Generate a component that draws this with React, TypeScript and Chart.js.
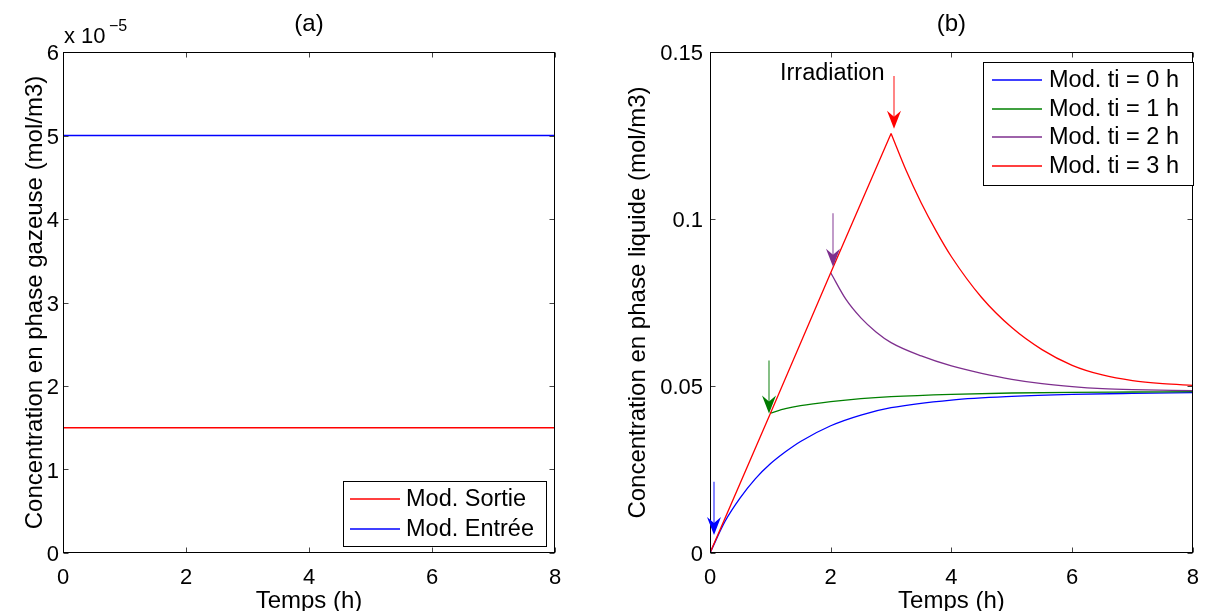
import React, { useEffect, useRef } from 'react';
import { Chart, registerables } from 'chart.js';

Chart.register(...registerables);

const FONT = '"Liberation Sans", Arial, Helvetica, sans-serif';
const TICK_FS = 22;
const LABEL_FS = 24;
const LEGEND_FS = 23.5;

// ---------- Panel (a) data ----------
const leftTimes = [0, 8];
const sortieValues = [1.5e-5, 1.5e-5];
const entreeValues = [5e-5, 5e-5];
const leftYTicks = [0, 1e-5, 2e-5, 3e-5, 4e-5, 5e-5, 6e-5];
const xTickValues = [0, 2, 4, 6, 8];

// ---------- Panel (b) data ----------
const blueTimes = [0, 0.25, 0.5, 0.75, 1, 1.25, 1.5, 2, 2.5, 3, 4, 5, 6, 7, 8];
const blueValues = [0, 0.0095, 0.0165, 0.0222, 0.0267, 0.0303, 0.0334, 0.0381, 0.0413, 0.0435, 0.0458, 0.0469, 0.0475, 0.0478, 0.048];

const greenTimes = [1, 1.25, 1.5, 2, 2.5, 3, 4, 5, 6, 7, 8];
const greenValues = [0.0419, 0.0432, 0.0441, 0.0453, 0.0462, 0.0468, 0.0475, 0.0479, 0.0481, 0.0482, 0.0483];

const purpleTimes = [2, 2.25, 2.5, 2.75, 3, 3.5, 4, 4.5, 5, 5.5, 6, 6.5, 7, 8];
const purpleValues = [0.0839, 0.076, 0.0704, 0.0662, 0.063, 0.059, 0.056, 0.0538, 0.052, 0.0507, 0.0498, 0.0492, 0.0489, 0.0486];

const redRiseTimes = [0, 1, 2, 3];
const redRiseValues = [0, 0.0418, 0.0839, 0.1256];
const redDecayTimes = [3, 3.25, 3.5, 3.75, 4, 4.5, 5, 5.5, 6, 6.5, 7, 7.5, 8];
const redDecayValues = [0.1256, 0.1145, 0.1048, 0.0963, 0.0887, 0.0765, 0.0675, 0.0609, 0.0562, 0.0533, 0.0516, 0.0507, 0.0502];

const rightYTicks = [0, 0.05, 0.1, 0.15];

// Irradiation arrows (time, arrow start value, arrow tip value)
const arrowTimes = [0.07, 0.98, 2.03, 3.05];
const arrowTops = [0.0213, 0.0576, 0.1017, 0.1428];
const arrowTips = [0.0054, 0.0418, 0.0857, 0.127];
const arrowColors = ['#0000ff', '#007a00', '#7e2f8e', '#ff0000'];

const leftLabels = ['Mod. Sortie', 'Mod. Entrée'];
const rightLabels = ['Mod. ti = 0 h', 'Mod. ti = 1 h', 'Mod. ti = 2 h', 'Mod. ti = 3 h'];

const BLUE = '#0000ff';
const GREEN = '#008000';
const PURPLE = '#7e2f8e';
const RED = '#ff0000';
const LW = 1.3;

const pts = (xs: number[], ys: number[]) => xs.map((x, i) => ({ x, y: ys[i] }));

const panelPlugin = {
  id: 'panel',
  afterDatasetsDraw(chart: any, _args: any, opts: any) {
    const { ctx, chartArea: a, scales } = chart;
    const xs = scales.x;
    const ys = scales.y;
    ctx.save();
    ctx.lineWidth = 1;
    const L = Math.round(a.left) + 0.5;
    const R = Math.round(a.right) - 0.5;
    const T = Math.round(a.top) + 0.5;
    const B = Math.round(a.bottom) - 0.5;
    // inward ticks on all four sides
    ctx.strokeStyle = '#444';
    ctx.beginPath();
    xs.ticks.forEach((t: any) => {
      const px = Math.round(xs.getPixelForValue(t.value)) + 0.5;
      ctx.moveTo(px, B);
      ctx.lineTo(px, B - 5);
      ctx.moveTo(px, T);
      ctx.lineTo(px, T + 5);
    });
    ys.ticks.forEach((t: any) => {
      const py = Math.round(ys.getPixelForValue(t.value)) + 0.5;
      ctx.moveTo(L, py);
      ctx.lineTo(L + 5, py);
      ctx.moveTo(R, py);
      ctx.lineTo(R - 5, py);
    });
    ctx.stroke();
    ctx.strokeStyle = '#000';
    ctx.strokeRect(L, T, R - L, B - T);

    // arrows
    (opts.arrows || []).forEach((ar: any) => {
      const px = Math.round(xs.getPixelForValue(ar.t));
      const pTop = ys.getPixelForValue(ar.top);
      const pTip = ys.getPixelForValue(ar.tip);
      ctx.strokeStyle = ar.color;
      ctx.fillStyle = ar.color;
      ctx.lineWidth = 1.2;
      ctx.globalAlpha = 0.8;
      ctx.beginPath();
      ctx.moveTo(px, pTop);
      ctx.lineTo(px, pTip - 10);
      ctx.stroke();
      ctx.globalAlpha = 1;
      ctx.beginPath();
      ctx.moveTo(px, pTip);
      ctx.lineTo(px - 7, pTip - 18);
      ctx.lineTo(px, pTip - 12);
      ctx.lineTo(px + 7, pTip - 18);
      ctx.closePath();
      ctx.fill();
    });

    // annotation text
    ctx.fillStyle = '#000';
    ctx.font = `${LEGEND_FS}px ${FONT}`;
    (opts.texts || []).forEach((tx: any) => {
      ctx.textAlign = 'left';
      ctx.textBaseline = 'alphabetic';
      ctx.fillText(tx.text, tx.x, tx.y);
    });

    // legend
    const lg = opts.legend;
    if (lg) {
      ctx.fillStyle = '#fff';
      ctx.fillRect(lg.x, lg.y, lg.w, lg.h);
      ctx.strokeStyle = '#000';
      ctx.lineWidth = 1;
      ctx.strokeRect(lg.x + 0.5, lg.y + 0.5, lg.w, lg.h);
      lg.items.forEach((it: any, i: number) => {
        const ds = chart.data.datasets[it];
        const yy = Math.round(lg.rowY + i * lg.rowGap);
        ctx.strokeStyle = ds.borderColor;
        ctx.lineWidth = LW;
        ctx.beginPath();
        ctx.moveTo(lg.x + lg.lineX0, yy);
        ctx.lineTo(lg.x + lg.lineX1, yy);
        ctx.stroke();
        ctx.fillStyle = '#000';
        ctx.textAlign = 'left';
        ctx.textBaseline = 'middle';
        ctx.font = `${LEGEND_FS}px ${FONT}`;
        ctx.fillText(ds.label, lg.x + lg.textX, yy + 1);
      });
    }
    ctx.restore();
  },
  afterDraw(chart: any, _args: any, opts: any) {
    const { ctx, chartArea: a } = chart;
    ctx.save();
    ctx.fillStyle = '#000';
    ctx.font = `${LABEL_FS}px ${FONT}`;
    const cx = (a.left + a.right) / 2;
    const cy = (a.top + a.bottom) / 2;
    ctx.textAlign = 'center';
    ctx.textBaseline = 'alphabetic';
    // title
    ctx.fillText(opts.title, cx, 31);
    // x title
    ctx.fillText(opts.xTitle, cx, 608);
    // y title
    ctx.save();
    ctx.translate(opts.yTitleX, cy);
    ctx.rotate(-Math.PI / 2);
    ctx.fillText(opts.yTitle, 0, 0);
    ctx.restore();
    // exponent
    if (opts.exponent) {
      ctx.textAlign = 'left';
      ctx.font = `${TICK_FS}px ${FONT}`;
      ctx.fillText('x 10', a.left + 1, 43);
      ctx.font = `16px ${FONT}`;
      ctx.fillText('\u22125', a.left + 46, 31);
    }
    ctx.restore();
  },
};

const tickFont = { family: FONT, size: TICK_FS };

function PanelA() {
  const ref = useRef<HTMLCanvasElement>(null);
  useEffect(() => {
    const chart = new Chart(ref.current as HTMLCanvasElement, {
      type: 'line',
      data: {
        datasets: [
          { label: leftLabels[0], data: pts(leftTimes, sortieValues), borderColor: RED, borderWidth: LW, pointRadius: 0 },
          { label: leftLabels[1], data: pts(leftTimes, entreeValues), borderColor: BLUE, borderWidth: LW, pointRadius: 0 },
        ],
      },
      options: {
        animation: false,
        responsive: false,
        devicePixelRatio: 1,
        layout: { padding: { left: 0, top: 52, right: 50, bottom: 0 } },
        plugins: {
          legend: { display: false },
          tooltip: { enabled: false },
          panel: {
            title: '(a)',
            xTitle: 'Temps (h)',
            yTitle: 'Concentration en phase gazeuse (mol/m3)',
            yTitleX: 42,
            exponent: true,
            legend: { x: 343, y: 481, w: 203, h: 65, rowY: 499, rowGap: 30, lineX0: 7, lineX1: 57, textX: 63, items: [0, 1] },
          },
        } as any,
        scales: {
          x: {
            type: 'linear', min: 0, max: 8,
            grid: { display: false, drawTicks: false },
            border: { display: false },
            afterBuildTicks: (s: any) => { s.ticks = xTickValues.map((v) => ({ value: v })); },
            ticks: { font: tickFont, color: '#000', padding: 12, maxRotation: 0 },
            afterFit: (s: any) => { s.height = 58; },
          },
          y: {
            type: 'linear', min: 0, max: 6e-5,
            grid: { display: false, drawTicks: false },
            border: { display: false },
            afterBuildTicks: (s: any) => { s.ticks = leftYTicks.map((v) => ({ value: v })); },
            ticks: { font: tickFont, color: '#000', padding: 4, labelOffset: 2, callback: (v: any) => String(Math.round(Number(v) * 1e5)) },
            afterFit: (s: any) => { s.width = 63; },
          },
        },
      },
      plugins: [panelPlugin],
    } as any);
    return () => chart.destroy();
  }, []);
  return <canvas ref={ref} width={605} height={611} style={{ position: 'absolute', left: 0, top: 0, width: 605, height: 611 }} />;
}

function PanelB() {
  const ref = useRef<HTMLCanvasElement>(null);
  useEffect(() => {
    const chart = new Chart(ref.current as HTMLCanvasElement, {
      type: 'line',
      data: {
        datasets: [
          { label: rightLabels[0], data: pts(blueTimes, blueValues), borderColor: BLUE, borderWidth: LW, pointRadius: 0, cubicInterpolationMode: 'monotone', order: 4 },
          { label: rightLabels[1], data: pts(greenTimes, greenValues), borderColor: GREEN, borderWidth: LW, pointRadius: 0, cubicInterpolationMode: 'monotone', order: 3 },
          { label: rightLabels[2], data: pts(purpleTimes, purpleValues), borderColor: PURPLE, borderWidth: LW, pointRadius: 0, cubicInterpolationMode: 'monotone', order: 2 },
          { label: rightLabels[3], data: pts(redRiseTimes, redRiseValues), borderColor: RED, borderWidth: LW, pointRadius: 0, order: 0 },
          { label: rightLabels[3], data: pts(redDecayTimes, redDecayValues), borderColor: RED, borderWidth: LW, pointRadius: 0, cubicInterpolationMode: 'monotone', order: 1 },
        ],
      },
      options: {
        animation: false,
        responsive: false,
        devicePixelRatio: 1,
        layout: { padding: { left: 0, top: 52, right: 11, bottom: 0 } },
        plugins: {
          legend: { display: false },
          tooltip: { enabled: false },
          panel: {
            title: '(b)',
            xTitle: 'Temps (h)',
            yTitle: 'Concentration en phase liquide (mol/m3)',
            yTitleX: 645 - 605,
            arrows: arrowTimes.map((t, i) => ({ t, top: arrowTops[i], tip: arrowTips[i], color: arrowColors[i] })),
            texts: [{ text: 'Irradiation', x: 780 - 605, y: 80 }],
            legend: { x: 983 - 605, y: 62, w: 210, h: 123, rowY: 80, rowGap: 28.7, lineX0: 9, lineX1: 59, textX: 66, items: [0, 1, 2, 3] },
          },
        } as any,
        scales: {
          x: {
            type: 'linear', min: 0, max: 8,
            grid: { display: false, drawTicks: false },
            border: { display: false },
            afterBuildTicks: (s: any) => { s.ticks = xTickValues.map((v) => ({ value: v })); },
            ticks: { font: tickFont, color: '#000', padding: 12, maxRotation: 0 },
            afterFit: (s: any) => { s.height = 58; },
          },
          y: {
            type: 'linear', min: 0, max: 0.15,
            grid: { display: false, drawTicks: false },
            border: { display: false },
            afterBuildTicks: (s: any) => { s.ticks = rightYTicks.map((v) => ({ value: v })); },
            ticks: { font: tickFont, color: '#000', padding: 7, labelOffset: 2, callback: (v: any) => String(Number(Number(v).toFixed(2))) },
            afterFit: (s: any) => { s.width = 105; },
          },
        },
      },
      plugins: [panelPlugin],
    } as any);
    return () => chart.destroy();
  }, []);
  return <canvas ref={ref} width={606} height={611} style={{ position: 'absolute', left: 605, top: 0, width: 606, height: 611 }} />;
}

export default function App() {
  return (
    <div style={{ position: 'absolute', left: 0, top: 0, width: 1211, height: 611, background: '#fff', overflow: 'hidden' }}>
      <PanelA />
      <PanelB />
    </div>
  );
}
